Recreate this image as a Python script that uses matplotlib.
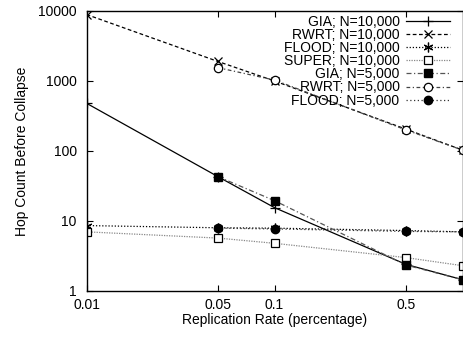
import matplotlib
matplotlib.use("Agg")
import matplotlib.pyplot as plt
from matplotlib.ticker import FixedLocator, FixedFormatter, NullLocator

plt.rcParams['font.family'] = ['Liberation Sans', 'DejaVu Sans']

# Replication rate (x) and hop counts
rate = [0.01, 0.05, 0.1, 0.5, 1.0]
rate_5k = [0.05, 0.1, 0.5, 1.0]

gia_10k = [480, 43, 15.5, 2.4, 1.45]
rwrt_10k = [8900, 1900, 1000, 205, 103]
flood_10k = [8.6, 8.0, 7.9, 7.3, 7.0]
super_10k = [7.0, 5.7, 4.8, 3.0, 2.3]
gia_5k = [43, 19.5, 2.35, 1.45]
rwrt_5k = [1550, 1030, 200, 103]
flood_5k = [7.9, 7.7, 7.1, 7.0]

x_ticks = [0.01, 0.05, 0.1, 0.5]
x_labels = ["0.01", "0.05", "0.1", "0.5"]
y_ticks = [1, 10, 100, 1000, 10000]
y_labels = ["1", "10", "100", "1000", "10000"]

fs = 10

fig = plt.figure(figsize=(4.63, 3.39), dpi=100)
ax = fig.add_axes([0.187, 0.1416, 0.812, 0.826])

lw = 0.9
ax.plot(rate, gia_10k, color='black', lw=lw, ls='-', marker='+', ms=7.5, mew=0.9,
        label="GIA; N=10,000")
ax.plot(rate, rwrt_10k, color='black', lw=lw, ls=(0, (3, 2)), marker='x', ms=6, mew=0.9,
        label="RWRT; N=10,000")
ax.plot(rate, flood_10k, color='black', lw=lw, ls=(0, (1, 1.5)), marker=(6, 2, 0), ms=7, mew=0.9,
        label="FLOOD; N=10,000")
ax.plot(rate, super_10k, color='#888888', lw=lw, ls=(0, (1, 1)), marker='s', ms=5.5,
        mfc='white', mec='black', mew=0.9, label="SUPER; N=10,000")
ax.plot(rate_5k, gia_5k, color='#555555', lw=lw, ls=(0, (4, 2, 1, 2)), marker='s', ms=6.3,
        mfc='black', mec='black', label="GIA; N=5,000")
ax.plot(rate_5k, rwrt_5k, color='#444444', lw=lw, ls=(0, (3, 2, 1, 2)), marker='o', ms=6,
        mfc='white', mec='black', mew=0.9, label="RWRT; N=5,000")
ax.plot(rate_5k, flood_5k, color='#333333', lw=lw, ls=(0, (1, 2)), marker='o', ms=6,
        mfc='black', mec='black', label="FLOOD; N=5,000")

ax.set_xscale('log')
ax.set_yscale('log')
ax.set_xlim(0.01, 1.0)
ax.set_ylim(1, 10000)

ax.xaxis.set_major_locator(FixedLocator(x_ticks))
ax.xaxis.set_major_formatter(FixedFormatter(x_labels))
ax.xaxis.set_minor_locator(NullLocator())
ax.yaxis.set_major_locator(FixedLocator(y_ticks))
ax.yaxis.set_major_formatter(FixedFormatter(y_labels))
ax.yaxis.set_minor_locator(NullLocator())
ax.tick_params(which='both', direction='in', top=True, right=True, length=4,
               width=0.8, labelsize=fs)
ax.tick_params(axis='y', pad=7)
ax.tick_params(axis='x', pad=5)

for s in ax.spines.values():
    s.set_linewidth(1.0)

ax.set_xlabel("Replication Rate (percentage)", fontsize=fs, labelpad=1)
ax.set_ylabel("Hop Count Before Collapse", fontsize=fs, labelpad=7)

ax.legend(loc='upper right', frameon=False, markerfirst=False, fontsize=fs,
          handlelength=3.2, handletextpad=0.45, labelspacing=-0.06,
          borderaxespad=0.0, bbox_to_anchor=(0.982, 1.007))

fig.savefig("out.png", dpi=100)
